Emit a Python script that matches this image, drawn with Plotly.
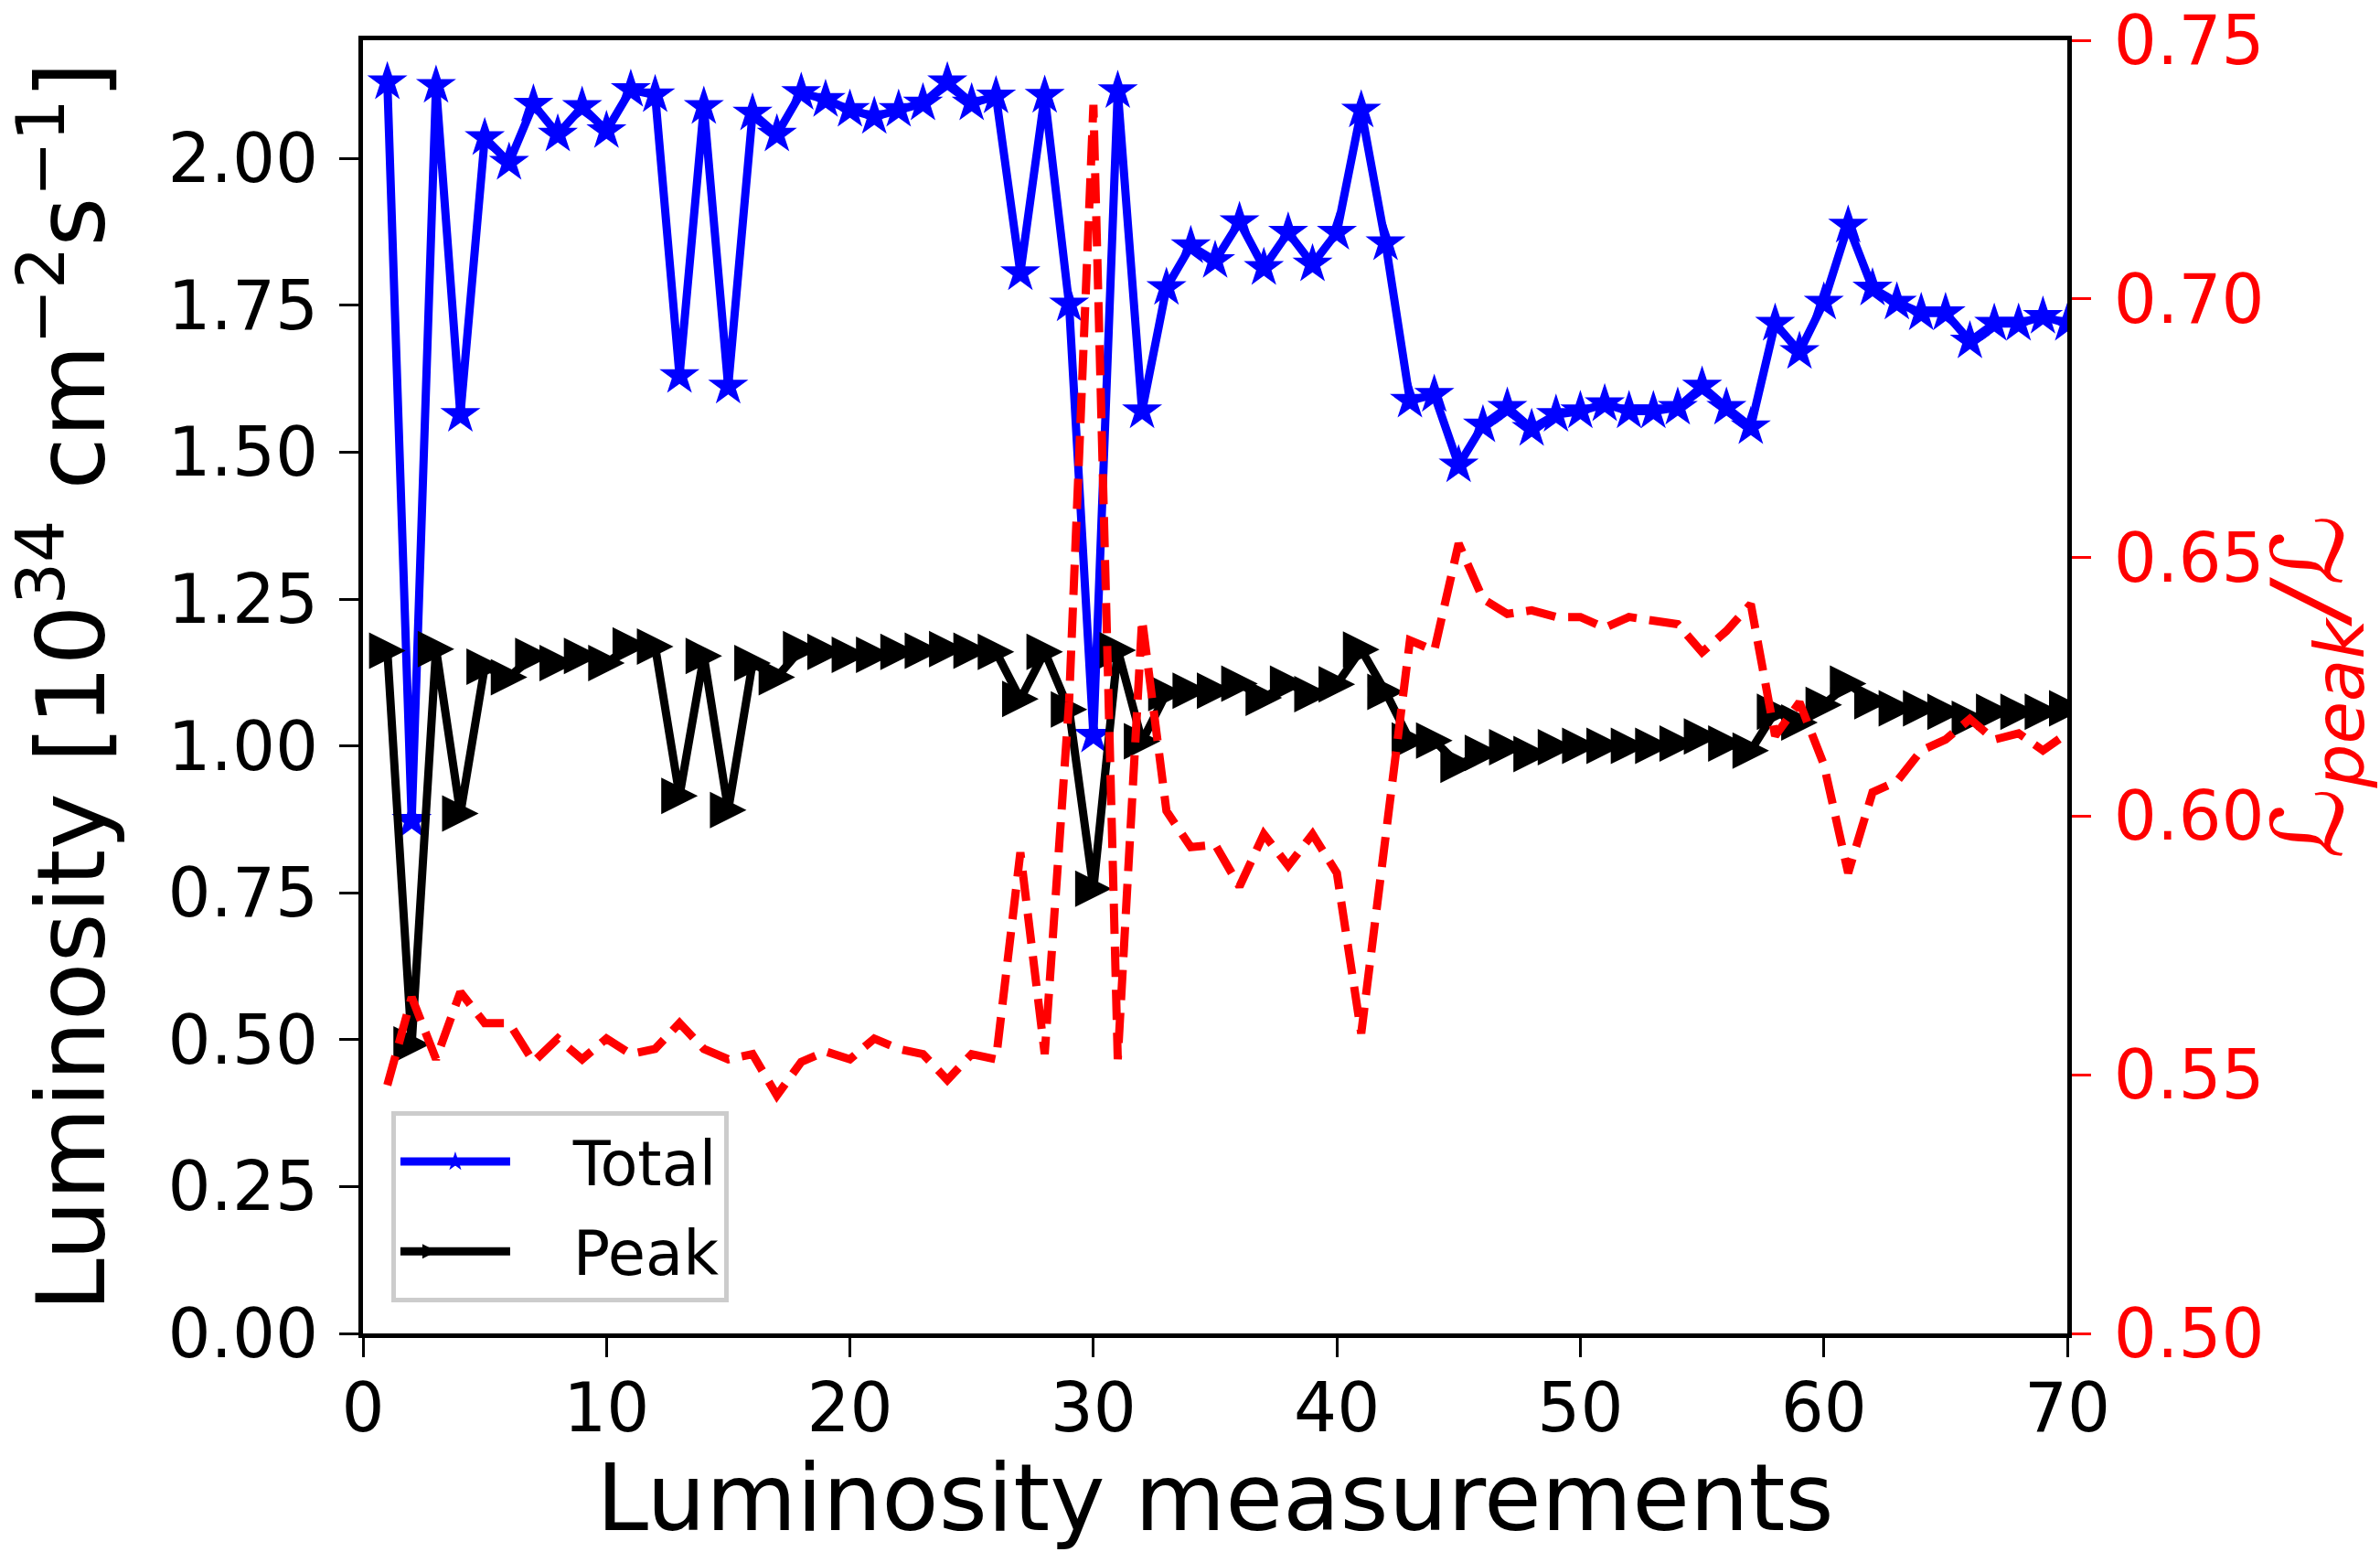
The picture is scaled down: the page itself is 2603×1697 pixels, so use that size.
import plotly.graph_objects as go

# Measurement index
measurement = list(range(1, 71))

# Total luminosity [1e34 cm^-2 s^-1]
total_lumi = [
    2.130, 0.873, 2.124, 1.564, 2.035, 1.993, 2.092, 2.041, 2.088, 2.047,
    2.117, 2.108, 1.630, 2.088, 1.612, 2.077, 2.041, 2.112, 2.100, 2.083,
    2.071, 2.083, 2.094, 2.130, 2.094, 2.106, 1.805, 2.107, 1.752, 1.018,
    2.115, 1.570, 1.780, 1.851, 1.826, 1.892, 1.814, 1.874, 1.820, 1.874,
    2.082, 1.856, 1.588, 1.598, 1.478, 1.546, 1.576, 1.540, 1.564, 1.570,
    1.582, 1.570, 1.570, 1.576, 1.612, 1.576, 1.543, 1.719, 1.671, 1.755,
    1.886, 1.779, 1.755, 1.737, 1.737, 1.689, 1.719, 1.719, 1.731, 1.719,
]

# Peak luminosity [1e34 cm^-2 s^-1]
peak_lumi = [
    1.162, 0.492, 1.165, 0.885, 1.135, 1.117, 1.153, 1.141, 1.153, 1.141,
    1.171, 1.169, 0.915, 1.153, 0.891, 1.141, 1.117, 1.165, 1.160, 1.155,
    1.155, 1.160, 1.162, 1.165, 1.162, 1.160, 1.080, 1.160, 1.062, 0.757,
    1.163, 1.008, 1.090, 1.094, 1.094, 1.106, 1.082, 1.106, 1.088, 1.105,
    1.164, 1.092, 1.009, 1.009, 0.968, 0.988, 0.998, 0.986, 0.998, 1.000,
    1.000, 1.000, 1.000, 1.004, 1.016, 1.004, 0.992, 1.058, 1.040, 1.070,
    1.106, 1.076, 1.064, 1.064, 1.058, 1.046, 1.058, 1.058, 1.058, 1.064,
]

# Ratio of peak to total luminosity
peak_ratio = [
    0.548, 0.565, 0.553, 0.566, 0.560, 0.560, 0.5525, 0.557, 0.553, 0.557,
    0.554, 0.555, 0.560, 0.555, 0.553, 0.554, 0.546, 0.5525, 0.5545, 0.553,
    0.557, 0.555, 0.554, 0.549, 0.554, 0.553, 0.593, 0.554, 0.622, 0.7375,
    0.553, 0.638, 0.601, 0.594, 0.5945, 0.5864, 0.5965, 0.5904, 0.5965, 0.589,
    0.558, 0.595, 0.634, 0.632, 0.6527, 0.642, 0.6391, 0.6398, 0.6385, 0.6385,
    0.6364, 0.6385, 0.6378, 0.6371, 0.6317, 0.6358, 0.641, 0.6155, 0.622, 0.610,
    0.589, 0.6046, 0.6067, 0.6127, 0.6148, 0.6188, 0.6148, 0.616, 0.6127, 0.616,
]

left_ticks = [0.0, 0.25, 0.5, 0.75, 1.0, 1.25, 1.5, 1.75, 2.0]
right_ticks = [0.50, 0.55, 0.60, 0.65, 0.70, 0.75]
x_ticks = [0, 10, 20, 30, 40, 50, 60, 70]

FONT = "DejaVu Sans"
NBSP = "\u00a0"

# right-pointing triangle centred on each point: a down arrow turned by -90deg,
# pushed forward by half its size so the point sits in the middle of the marker
TRI_SIZE = 40

fig = go.Figure()

fig.add_trace(go.Scatter(
    x=measurement, y=total_lumi, name=NBSP * 3 + "Total", mode="lines+markers",
    legendgroup="total",
    line=dict(color="#0000ff", width=9),
    marker=dict(symbol="star", size=33, color="#0000ff"),
    yaxis="y",
))
fig.add_trace(go.Scatter(
    x=measurement, y=peak_lumi, name=NBSP * 3 + "Peak", mode="lines+markers",
    legendgroup="peak",
    line=dict(color="#000000", width=9, backoff=0),
    marker=dict(symbol="arrow-down", size=TRI_SIZE, angle=-90,
                standoff=TRI_SIZE / 2, color="#000000"),
    yaxis="y",
))
fig.add_trace(go.Scatter(
    x=measurement, y=peak_ratio, name="ratio", mode="lines",
    line=dict(color="#ff0000", width=9, dash="33px,14px"),
    showlegend=False,
    yaxis="y2",
))

axis_common = dict(
    showgrid=False, zeroline=False, ticks="outside", ticklen=21, tickwidth=3,
    automargin=False,
)

fig.update_layout(
    width=2603, height=1697,
    margin=dict(l=397, r=342, t=44, b=239, pad=0),
    paper_bgcolor="white", plot_bgcolor="white",
    font=dict(family=FONT, color="black"),
    xaxis=dict(
        range=[0, 70], tickvals=x_ticks,
        showline=True, mirror=True, linecolor="black", linewidth=5,
        tickcolor="black", tickfont=dict(size=74, family=FONT),
        ticklabelstandoff=-8,
        title=dict(text="Luminosity measurements", font=dict(size=102, family=FONT),
                   standoff=36),
        **axis_common,
    ),
    yaxis=dict(
        range=[0, 2.2012], tickvals=left_ticks, tickformat=".2f",
        showline=True, mirror=True, linecolor="black", linewidth=5,
        tickcolor="black", tickfont=dict(size=74, family=FONT),
        ticklabelstandoff=8,
        title=dict(text="Luminosity [10<sup>34</sup> cm<sup>\u22122</sup>s<sup>\u22121</sup>]",
                   font=dict(size=104, family=FONT), standoff=36),
        **axis_common,
    ),
    yaxis2=dict(
        range=[0.5, 0.75], tickvals=right_ticks, tickformat=".2f",
        overlaying="y", side="right",
        showline=True, linecolor="black", linewidth=5,
        tickcolor="#ff0000", tickfont=dict(size=74, family=FONT, color="#ff0000"),
        ticklabelstandoff=10,
        title=dict(text="<i>\u2112<sub>peak</sub>/\u2112</i>",
                   font=dict(size=108, family=FONT, color="#ff0000"), standoff=50),
        **axis_common,
    ),
    legend=dict(
        x=0.0166, y=0.024, xanchor="left", yanchor="bottom",
        bgcolor="white", bordercolor="#cccccc", borderwidth=5,
        font=dict(size=67, family=FONT), itemwidth=120, tracegroupgap=8,
    ),
)

fig.write_html("out.html")
